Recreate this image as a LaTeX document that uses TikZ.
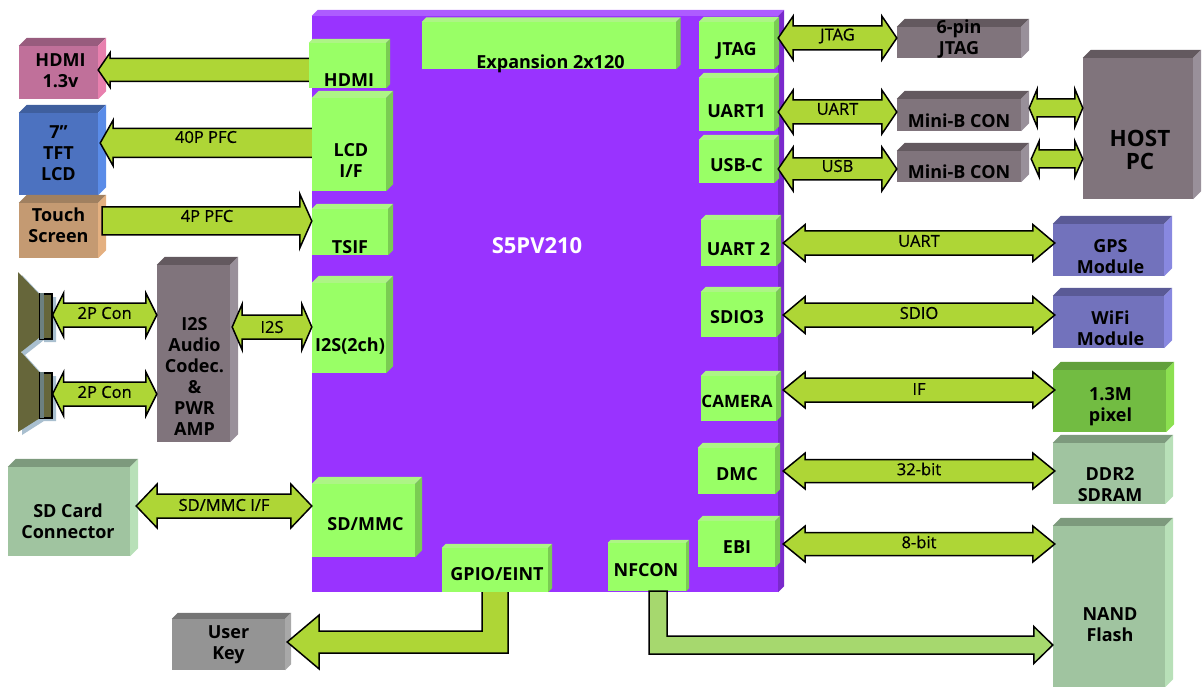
\documentclass[tikz,border=0pt]{standalone}
\usepackage{fontspec}
\setmainfont{Open Sans}
\newfontfamily\arrowfont[FakeBold=0.6]{Open Sans}
\usetikzlibrary{calc}

\definecolor{chipfront}{HTML}{9933FF}
\definecolor{chiptop}{HTML}{AD5CFF}
\definecolor{chipside}{HTML}{7A29CC}
\definecolor{ipfront}{HTML}{99FF66}
\definecolor{iptop}{HTML}{ADF585}
\definecolor{ipside}{HTML}{7ACC52}
\definecolor{greyfront}{HTML}{80747C}
\definecolor{greytop}{HTML}{63595F}
\definecolor{greyside}{HTML}{99909A}
\definecolor{sagefront}{HTML}{A0C4A0}
\definecolor{sagetop}{HTML}{7D9A7D}
\definecolor{sageside}{HTML}{B8E0B8}
\definecolor{indigofront}{HTML}{7272BC}
\definecolor{indigotop}{HTML}{5A5A96}
\definecolor{indigoside}{HTML}{8888E0}
\definecolor{pinkfront}{HTML}{C0709A}
\definecolor{pinktop}{HTML}{985C7E}
\definecolor{pinkside}{HTML}{E880AE}
\definecolor{bluefront}{HTML}{4C72C0}
\definecolor{bluetop}{HTML}{3F5F9E}
\definecolor{blueside}{HTML}{5A8CE8}
\definecolor{tanfront}{HTML}{C49A72}
\definecolor{tantop}{HTML}{A08060}
\definecolor{tanside}{HTML}{E4B080}
\definecolor{keyfront}{HTML}{949494}
\definecolor{keytop}{HTML}{757575}
\definecolor{keyside}{HTML}{A8A8A8}
\definecolor{camfront}{HTML}{72BC42}
\definecolor{camtop}{HTML}{62A03C}
\definecolor{camside}{HTML}{8CE050}
\definecolor{arrowfill}{HTML}{AED636}
\definecolor{arrowpale}{HTML}{A6D86E}
\definecolor{coneolive}{HTML}{66663A}
\definecolor{coneshadow}{HTML}{A9BFCF}
\definecolor{magnettint}{HTML}{6C8080}

\newcommand{\boxtext}[3]{\raisebox{\dimexpr-#2pt-.37em\relax}[0pt][0pt]{\makebox[0pt]{\hspace*{#1pt}\hspace*{#1pt}\begin{tabular}{@{}c@{}}#3\end{tabular}}}}

\tikzset{
    cuboid/.style n args={4}{rectangle,inner sep=0pt,fill=#1,
        font=\fontsize{18}{21}\selectfont\bfseries,
        append after command={\pgfextra{\let\lastcube\tikzlastnode
            \fill[#2] (\lastcube.north west) -- ++(#4,-#4)
                -- ($(\lastcube.north east)+(#4,-#4)$)
                -- (\lastcube.north east) -- cycle;
            \fill[#3] (\lastcube.north east) -- ++(#4,-#4)
                -- ($(\lastcube.south east)+(#4,-#4)$)
                -- (\lastcube.south east) -- cycle;}}},
    sized/.style 2 args={minimum width=#1,minimum height=#2},
    ipcube/.style={cuboid={ipfront}{iptop}{ipside}{#1}},
    greycube/.style={cuboid={greyfront}{greytop}{greyside}{8}},
    sagecube/.style={cuboid={sagefront}{sagetop}{sageside}{8}},
    indigocube/.style={cuboid={indigofront}{indigotop}{indigoside}{8}},
    arrowtext/.style={font=\fontsize{16.5}{19}\selectfont\arrowfont,inner sep=0pt},
    blockline/.style={draw=black,line width=1.5pt,fill=arrowfill},
    twoway/.style n args={3}{blockline,to path={let \p1=(\tikztostart),\p2=(\tikztotarget) in
        (\x1,\y1) -- (\x1+#1pt,\y1+#3pt) -- (\x1+#1pt,\y1+#2pt)
        -- (\x2-#1pt,\y1+#2pt) -- (\x2-#1pt,\y1+#3pt) -- (\x2,\y1)
        -- (\x2-#1pt,\y1-#3pt) -- (\x2-#1pt,\y1-#2pt)
        -- (\x1+#1pt,\y1-#2pt) -- (\x1+#1pt,\y1-#3pt) -- cycle
        ($(\p1)!.5!(\p2)$) -- ($(\p1)!.5!(\p2)$) \tikztonodes}},
    oneway/.style n args={4}{blockline,to path={let \p1=(\tikztostart),\p2=(\tikztotarget) in
        (\x1,\y1+#2pt) -- (\x2+#1pt,\y1+#2pt) -- (\x2+#1pt,\y1+#3pt) -- (\x2,\y1)
        -- (\x2+#1pt,\y1-#3pt) -- (\x2+#1pt,\y1-#2pt) -- (\x1,\y1-#2pt) #4
        ($(\p1)!.5!(\p2)$) -- ($(\p1)!.5!(\p2)$) \tikztonodes}},
    elbowway/.style n args={5}{blockline,to path={let \p1=(\tikztostart),\p2=(\tikztotarget) in
        (\x1-#1pt,\y1) -- (\x1-#1pt,\y2+#2pt) -- (\x2+#4pt,\y2+#2pt) -- (\x2+#4pt,\y2+#3pt)
        -- (\x2,\y2) -- (\x2+#4pt,\y2-#3pt) -- (\x2+#4pt,\y2-#2pt)
        -- (\x1+#1pt,\y2-#2pt) -- (\x1+#1pt,\y1) #5}},
    magnet/.style={rectangle,draw=black,line width=1.2pt,fill=coneolive,inner sep=0pt,
        minimum width=12,minimum height=45},
}

\begin{document}
\begin{tikzpicture}[x=1pt,y=-1pt]

    \useasboundingbox (0,0) rectangle (1202,687);

    \node[cuboid={chipfront}{chiptop}{chipside}{6},sized={466}{576},text=white] (soc) at (545,304)
        {\boxtext{-8}{-58}{\fontsize{22}{24}\selectfont S5PV210}};

    \node[ipcube=4.5,sized={254}{47}] (expansion) at (549,45.5) {\boxtext{1.5}{16.5}{Expansion 2x120}};
    \node[ipcube=4,sized={77}{45}] (hdmi) at (347.5,65.5) {\boxtext{1.5}{14.5}{HDMI}};
    \node[ipcube=7,sized={74}{93}] (lcd) at (349,144.5) {\boxtext{2}{16}{LCD\\I/F}};
    \node[ipcube=5,sized={76}{46}] (tsif) at (350,232) {\boxtext{0}{15}{TSIF}};
    \node[ipcube=7,sized={74}{90}] (iis) at (349,328) {\boxtext{1}{17}{I2S(2ch)}};
    \node[ipcube=7,sized={103}{73}] (sdmmc) at (363.5,520.5) {\boxtext{2}{3.5}{SD/MMC}};
    \node[ipcube=4,sized={106}{44}] (gpio) at (495,570) {\boxtext{2}{4}{GPIO/EINT}};
    \node[ipcube=3,sized={78}{48}] (nfcon) at (647,567) {\boxtext{-1}{3}{NFCON}};

    \node[ipcube=5,sized={75}{47}] (jtag) at (736.5,45.5) {\boxtext{0}{3.5}{JTAG}};
    \node[ipcube=5,sized={75}{53}] (uartone) at (736.5,104.5) {\boxtext{0}{6.5}{UART1}};
    \node[ipcube=5,sized={75}{43}] (usbc) at (736.5,161.5) {\boxtext{0}{3.5}{USB-C}};
    \node[ipcube=5,sized={75}{46}] (uarttwo) at (738.5,243) {\boxtext{0}{6}{UART 2}};
    \node[ipcube=5,sized={75}{45}] (sdio) at (738.5,314.5) {\boxtext{-1.5}{2.5}{SDIO3}};
    \node[ipcube=5,sized={75}{45}] (camera) at (738.5,398.5) {\boxtext{-1.5}{2.5}{\fontsize{17}{19}\selectfont CAMERA}};
    \node[ipcube=5,sized={77}{46}] (dmc) at (736.5,471) {\boxtext{0.5}{3}{DMC}};
    \node[ipcube=5,sized={77}{46}] (ebi) at (736.5,544) {\boxtext{0.5}{3}{EBI}};

    \node[cuboid={pinkfront}{pinktop}{pinkside}{8},sized={79}{53}] (hdmiout) at (58.5,72.5) {\boxtext{2}{-2}{HDMI\\1.3v}};
    \node[cuboid={bluefront}{bluetop}{blueside}{8},sized={79}{82}] (tft) at (58.5,154) {\boxtext{0}{-1}{7”\\TFT\\LCD}};
    \node[cuboid={tanfront}{tantop}{tanside}{8},sized={79}{55}] (touch) at (58.5,230.5) {\boxtext{0}{-5}{Touch\\Screen}};
    \node[greycube,sized={73}{177}] (codec) at (193.5,353.5) {\boxtext{1}{22.5}{I2S\\Audio\\Codec.\\\&\\PWR\\AMP}};
    \node[sagecube,sized={122}{89}] (sdcard) at (69,511.5) {\boxtext{-1}{10}{SD Card\\Connector}};
    \node[cuboid={keyfront}{keytop}{keyside}{6},sized={113}{51}] (userkey) at (228.5,644.5) {\boxtext{0}{-2}{User\\Key}};

    \node[greycube,sized={124}{31}] (pinjtag) at (959,42.5) {\boxtext{0}{-5}{6-pin\\JTAG}};
    \node[greycube,sized={124}{32}] (minia) at (959,115) {\boxtext{0}{6}{Mini-B CON}};
    \node[greycube,sized={124}{31}] (minib) at (959,166.5) {\boxtext{0}{5.5}{Mini-B CON}};
    \node[greycube,sized={110}{141}] (hostpc) at (1138,128.5)
        {\boxtext{2}{22}{\fontsize{22.5}{25}\selectfont HOST\\\fontsize{22.5}{25}\selectfont PC}};
    \node[indigocube,sized={111}{52}] (gps) at (1108.5,250) {\boxtext{2}{6.5}{GPS\\Module}};
    \node[indigocube,sized={111}{52}] (wifi) at (1108.5,322) {\boxtext{2}{6.5}{WiFi\\Module}};
    \node[cuboid={camfront}{camtop}{camside}{8},sized={113}{62}] (pixel) at (1109.5,401) {\boxtext{1}{3.5}{1.3M\\pixel}};
    \node[sagecube,sized={112}{61}] (ddr) at (1109,473.5) {\boxtext{1}{11}{DDR2\\SDRAM}};
    \node[sagecube,sized={112}{161}] (nand) at (1109,606.5) {\boxtext{1}{18}{NAND\\Flash}};

    \fill[coneshadow,shift={(4,3)}] (18,272) -- (40,295) -- (40,337) -- (21,352) -- (40,373) -- (40,418) -- (18,432) -- cycle;
    \fill[coneshadow] (44,297) rectangle (56,342) (44,376) rectangle (56,421);
    \fill[coneolive] (18,272) -- (40,295) -- (40,337) -- (21,352) -- (40,373) -- (40,418) -- (18,432) -- cycle;
    \node[magnet] (magnetA) at (46,316.5) {};
    \node[magnet] (magnetB) at (46,395.5) {};
    \fill[magnettint] ([xshift=0.6]magnetA.north west) rectangle ([xshift=4.5,yshift=0.6]magnetA.south west);
    \fill[magnettint] ([xshift=0.6]magnetB.north west) rectangle ([xshift=4.5,yshift=0.6]magnetB.south west);

    \draw[oneway={12}{11.5}{17.5}{}] (hdmi.west |- 0,70) to (hdmiout.east |- 0,70);
    \draw[oneway={13}{14.5}{23}{}] (lcd.west |- 0,143) to node[arrowtext,yshift=6] (lcdlabel) {40P PFC} ([xshift=2]tft.east |- 0,143);
    \draw[oneway={-12}{14}{27}{-- cycle}] ([xshift=4]touch.east |- 0,221) to node[arrowtext,yshift=5] (touchlabel) {4P PFC} (tsif.west |- 0,221);
    \draw[twoway={11}{12}{22}] (magnetA.east |- 0,315) to node[arrowtext,yshift=2] (conAlabel) {2P Con} (codec.west |- 0,315);
    \draw[twoway={11}{12}{22}] (magnetB.east |- 0,394) to node[arrowtext,yshift=2] (conBlabel) {2P Con} (codec.west |- 0,394);
    \draw[twoway={10}{12}{23}] ([xshift=2]codec.east |- 0,327) to node[arrowtext] (iislabel) {I2S} (iis.west |- 0,327);
    \draw[twoway={21}{12}{22}] ([xshift=6]sdcard.east |- 0,506) to node[arrowtext,yshift=1] (sdlabel) {SD/MMC I/F} (sdmmc.west |- 0,506);

    \draw[twoway={15}{12}{22}] ([xshift=4]jtag.east |- 0,38) to node[arrowtext,yshift=2] (jtaglabel) {JTAG} (pinjtag.west |- 0,38);
    \draw[twoway={15}{12}{22}] ([xshift=4]uartone.east |- 0,112) to node[arrowtext,yshift=3] (uartlabel) {UART} (minia.west |- 0,112);
    \draw[twoway={15}{11}{22}] ([xshift=4]usbc.east |- 0,169) to node[arrowtext,yshift=3] (usblabel) {USB} (minib.west |- 0,169);
    \draw[twoway={8}{9}{19}] ([xshift=8]minia.east |- 0,108) to (hostpc.west |- 0,108);
    \draw[twoway={8}{9}{18}] ([xshift=10]minib.east |- 0,159) to (hostpc.west |- 0,159);
    \draw[twoway={22}{12}{18.5}] ([xshift=7]uarttwo.east |- 0,243) to node[arrowtext,yshift=2] (gpslabel) {UART} ([xshift=2]gps.west |- 0,243);
    \draw[twoway={22}{12}{18.5}] ([xshift=7]sdio.east |- 0,315) to node[arrowtext,yshift=2] (sdiolabel) {SDIO} ([xshift=2]wifi.west |- 0,315);
    \draw[twoway={22}{12}{18}] ([xshift=7]camera.east |- 0,390) to node[arrowtext,yshift=1] (iflabel) {IF} ([xshift=2]pixel.west |- 0,390);
    \draw[twoway={22}{11.5}{18}] ([xshift=8]dmc.east |- 0,471) to node[arrowtext,yshift=2] (dmclabel) {32-bit} ([xshift=2]ddr.west |- 0,471);
    \draw[twoway={22}{11.5}{18}] ([xshift=8]ebi.east |- 0,544) to node[arrowtext,yshift=2] (ebilabel) {8-bit} ([xshift=2]nand.west |- 0,544);

    \draw[elbowway={13}{11}{27}{32}{}] (gpio.south) to ([xshift=2]userkey.east |- 0,642);
    \draw[elbowway={-9}{9}{18.5}{-19}{-- cycle},fill=arrowpale] (nfcon.south -| 658,0) to (nand.west |- 0,645);

\end{tikzpicture}
\end{document}
